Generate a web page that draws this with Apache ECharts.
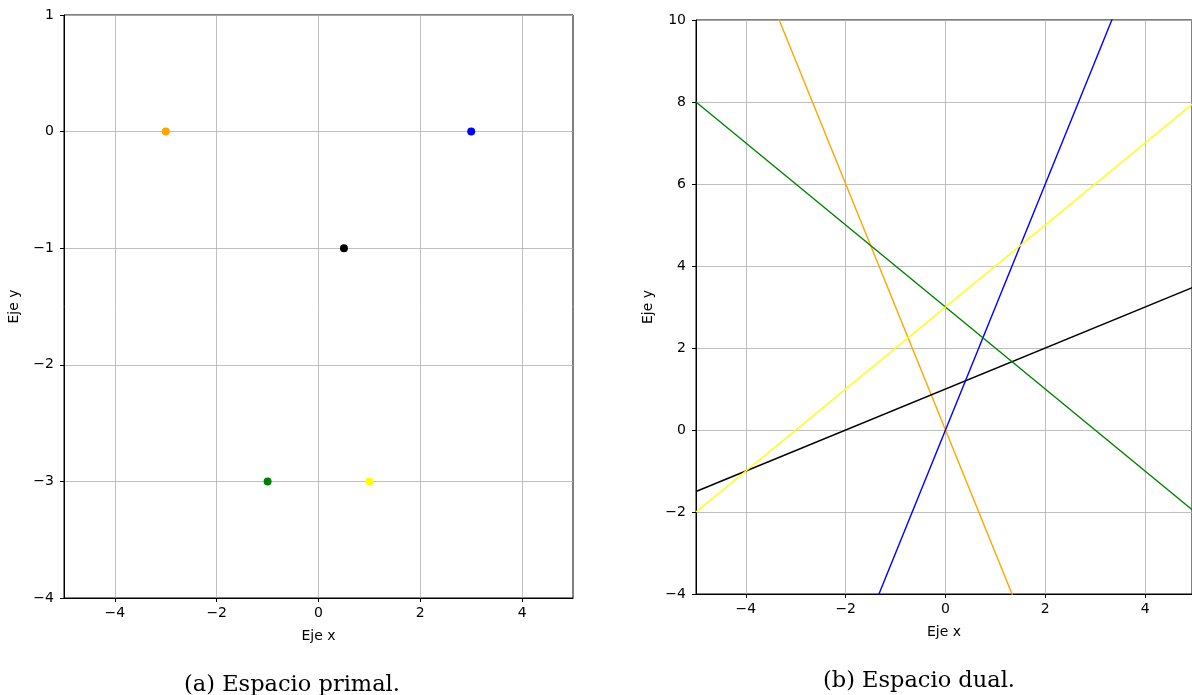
<!DOCTYPE html>
<html>
<head>
<meta charset="utf-8">
<script src="https://cdn.jsdelivr.net/npm/echarts@6/dist/echarts.min.js"></script>
<style>
  html, body { margin: 0; padding: 0; background: #fff; }
  #chart { width: 1192px; height: 695px; }
</style>
</head>
<body>
<div id="chart"></div>
<script>
// Primal points (x, y) and their colours
const pointNames = ['naranja', 'azul', 'negro', 'verde', 'amarillo'];
const pointX = [-3, 3, 0.5, -1, 1];
const pointY = [0, 0, -1, -3, -3];
const pointColors = ['orange', 'blue', 'black', 'green', 'yellow'];

// Tick labels
const primalXTicks = [-4, -2, 0, 2, 4];
const primalYTicks = [-4, -3, -2, -1, 0, 1];
const dualXTicks = [-4, -2, 0, 2, 4];
const dualYTicks = [-4, -2, 0, 2, 4, 6, 8, 10];

const captions = ['(a) Espacio primal.', '(b) Espacio dual.'];

// Dual of point (a, b) is the line y = a*x - b; sampled at the x-range ends
const xRange = [-5, 5];
const dualLines = pointX.map((a, i) => xRange.map(x => [x, a * x - pointY[i]]));

const fmt = v => (v < 0 ? '\u2212' + Math.abs(v) : String(v));
const FONT = 'DejaVu Sans';
const GRID_COLOR = '#b0b0b0';

function xAxis(gridIndex, ticks, max) {
  return {
    type: 'value', gridIndex, min: -5, max,
    axisLine: { onZero: false, lineStyle: { color: '#000', width: 1 } },
    axisTick: { show: true, length: 4, customValues: ticks, lineStyle: { color: '#000' } },
    axisLabel: { customValues: ticks, formatter: fmt, color: '#000', fontSize: 14, fontFamily: FONT, margin: 8 },
    splitLine: { show: true, lineStyle: { color: GRID_COLOR, width: 0.8 } },
    name: 'Eje x', nameLocation: 'middle', nameGap: 31,
    nameTextStyle: { color: '#000', fontSize: 14, fontFamily: FONT }
  };
}
function yAxis(gridIndex, ticks, gap) {
  return {
    type: 'value', gridIndex, min: ticks[0], max: ticks[ticks.length - 1],
    interval: ticks[1] - ticks[0],
    axisLine: { onZero: false, lineStyle: { color: '#000', width: 1 } },
    axisTick: { show: true, length: 4, lineStyle: { color: '#000' } },
    axisLabel: { formatter: fmt, color: '#000', fontSize: 14, fontFamily: FONT, margin: 10 },
    splitLine: { show: true, lineStyle: { color: GRID_COLOR, width: 0.8 } },
    name: 'Eje y', nameLocation: 'middle', nameGap: gap, nameRotate: 90,
    nameTextStyle: { color: '#000', fontSize: 14, fontFamily: FONT }
  };
}

const series = [];
pointX.forEach((x, i) => {
  series.push({
    name: pointNames[i], type: 'scatter', xAxisIndex: 0, yAxisIndex: 0,
    symbolSize: 8, itemStyle: { color: pointColors[i], opacity: 1 },
    data: [[x, pointY[i]]], silent: true
  });
});
dualLines.forEach((pts, i) => {
  series.push({
    name: 'dual ' + pointNames[i], type: 'line', xAxisIndex: 1, yAxisIndex: 1,
    showSymbol: false, clip: true, lineStyle: { color: pointColors[i], width: 1.4 },
    data: pts, silent: true, animation: false
  });
});

// The dual panel runs past the right edge of the page: its x range is cut
// so that one unit keeps the same width as in a full -5..5 frame.
const dualLeft = 696, dualWidth = 497, unitPx = 50;
const dualXMax = -5 + dualWidth / unitPx;

const chart = echarts.init(document.getElementById('chart'), null, { renderer: 'canvas' });
chart.setOption({
  animation: false,
  backgroundColor: '#fff',
  grid: [
    { left: 64, top: 15, width: 509, height: 583, show: true, borderColor: '#000', borderWidth: 1, backgroundColor: 'transparent' },
    { left: dualLeft, top: 20, width: dualWidth, height: 574, show: true, borderColor: '#000', borderWidth: 1, backgroundColor: 'transparent' }
  ],
  xAxis: [xAxis(0, primalXTicks, 5), xAxis(1, dualXTicks, dualXMax)],
  yAxis: [yAxis(0, primalYTicks, 43), yAxis(1, dualYTicks, 41)],
  series,
  graphic: [
    { type: 'text', x: 292, y: 685, style: { text: captions[0], font: '22.5px "DejaVu Serif"', fill: '#000', textAlign: 'center', textVerticalAlign: 'middle' } },
    { type: 'text', x: 919, y: 681, style: { text: captions[1], font: '22.5px "DejaVu Serif"', fill: '#000', textAlign: 'center', textVerticalAlign: 'middle' } }
  ]
});
</script>
</body>
</html>
